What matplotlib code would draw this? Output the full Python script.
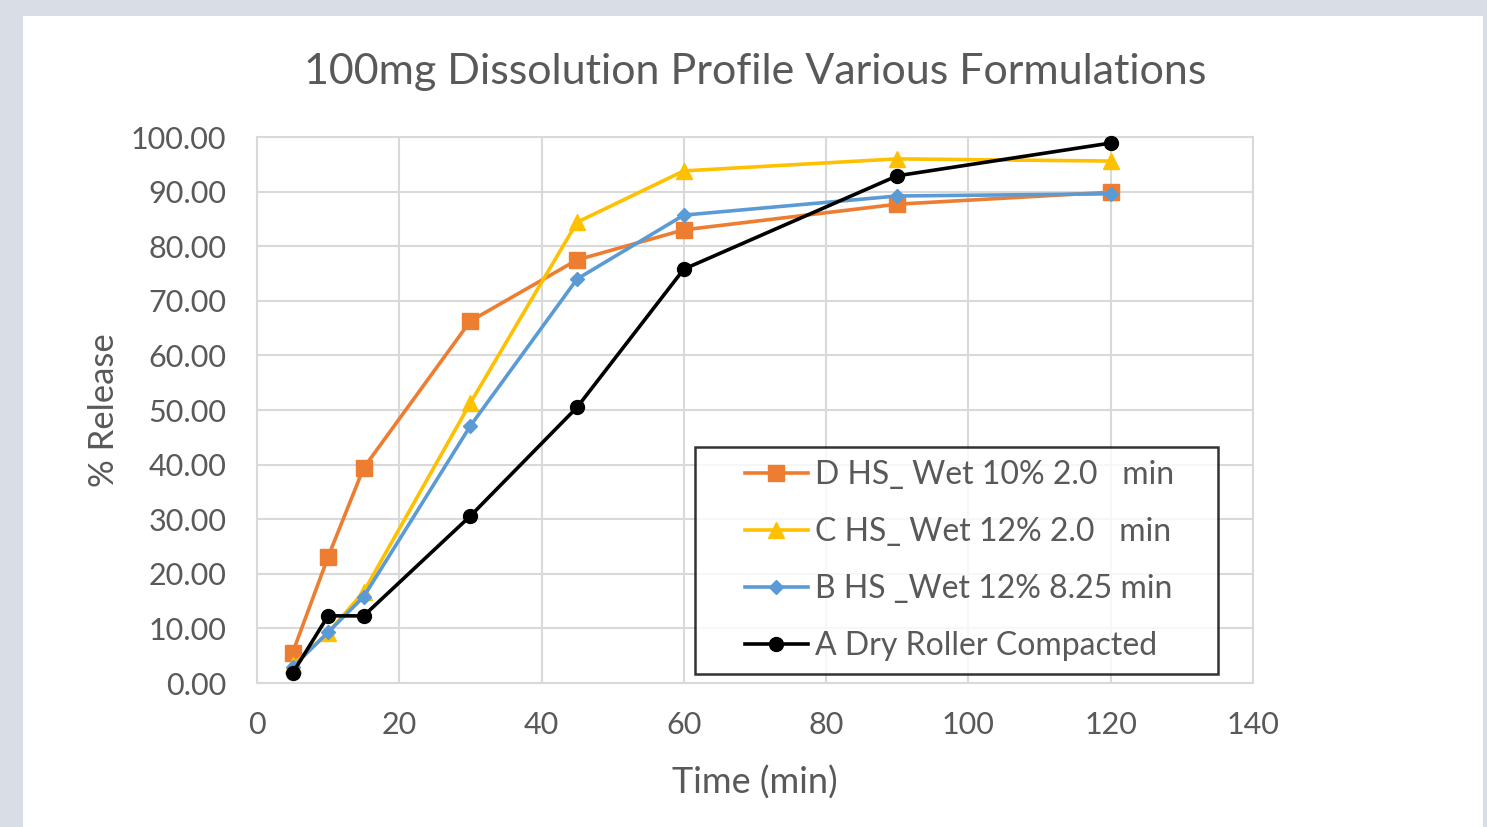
import matplotlib.pyplot as plt
from matplotlib.patches import Rectangle
from matplotlib.legend_handler import HandlerLine2D

plt.rcParams['font.family'] = ['Lato', 'DejaVu Sans']

times = [5, 10, 15, 30, 45, 60, 90, 120]
series_names = [
    "D HS_ Wet 10% 2.0   min",
    "C HS_ Wet 12% 2.0   min",
    "B HS _Wet 12% 8.25 min",
    "A Dry Roller Compacted",
]
d_release = [5.5, 23.1, 39.4, 66.3, 77.5, 83.0, 87.7, 89.9]
c_release = [3.3, 9.2, 16.7, 51.3, 84.4, 93.8, 96.0, 95.6]
b_release = [2.9, 9.3, 15.8, 47.1, 74.0, 85.7, 89.2, 89.6]
a_release = [1.8, 12.3, 12.3, 30.6, 50.5, 75.8, 92.9, 98.9]

colors = ['#ED7D31', '#FFC000', '#5B9BD5', '#000000']
markers = ['s', '^', 'D', 'o']
msizes = [11, 11, 7, 10]

fig = plt.figure(figsize=(14.87, 8.27), dpi=100)
fig.patch.set_facecolor('#d9dde6')
fig.add_artist(Rectangle((23 / 1487, 0), (1483 - 23) / 1487, 1 - 16 / 827,
                         transform=fig.transFigure, facecolor='white',
                         edgecolor='none', zorder=-10))

ax = fig.add_axes([0.1728, 0.1741, 0.8426 - 0.1728, 0.8343 - 0.1741])
ax.set_facecolor('white')

lines = []
for vals, name, c, m, ms in zip([d_release, c_release, b_release, a_release],
                                series_names, colors, markers, msizes):
    ln, = ax.plot(times, vals, color=c, marker=m, markersize=ms, linewidth=2.6,
                  label=name, clip_on=False, zorder=3)
    lines.append(ln)

ax.set_xlim(0, 140)
ax.set_ylim(0, 100)
ax.set_xticks(range(0, 141, 20))
ax.set_yticks(range(0, 101, 10))
ax.set_yticklabels([f"{v:.2f}" for v in range(0, 101, 10)])
ax.grid(True, color='#d9d9d9', linewidth=1.5)
ax.set_axisbelow(True)
for s in ax.spines.values():
    s.set_color('#d9d9d9')
    s.set_linewidth(1.5)
ax.tick_params(length=0, labelsize=22, colors='#595959')
ax.tick_params(axis='x', pad=20)
ax.tick_params(axis='y', pad=22)

ax.set_title("100mg Dissolution Profile Various Formulations", fontsize=31,
             color='#595959', pad=38)
ax.set_xlabel("Time (min)", fontsize=26, color='#595959', labelpad=19)
ax.set_ylabel("% Release", fontsize=25, color='#595959', labelpad=8)

handler = HandlerLine2D(xpad=1.15)
leg = ax.legend(handles=lines, loc='lower left',
                bbox_to_anchor=(0.4398, 0.0165, 0.525, 0.4175), mode='expand',
                borderaxespad=0, fontsize=23, frameon=True, fancybox=False,
                borderpad=0.4, labelspacing=0.85, handlelength=3.13,
                handletextpad=0.22,
                handler_map={ln: handler for ln in lines})
leg.get_frame().set_edgecolor('black')
leg.get_frame().set_linewidth(1.8)
for t in leg.get_texts():
    t.set_color('#595959')

fig.savefig('out.png', dpi=100, facecolor=fig.get_facecolor())
